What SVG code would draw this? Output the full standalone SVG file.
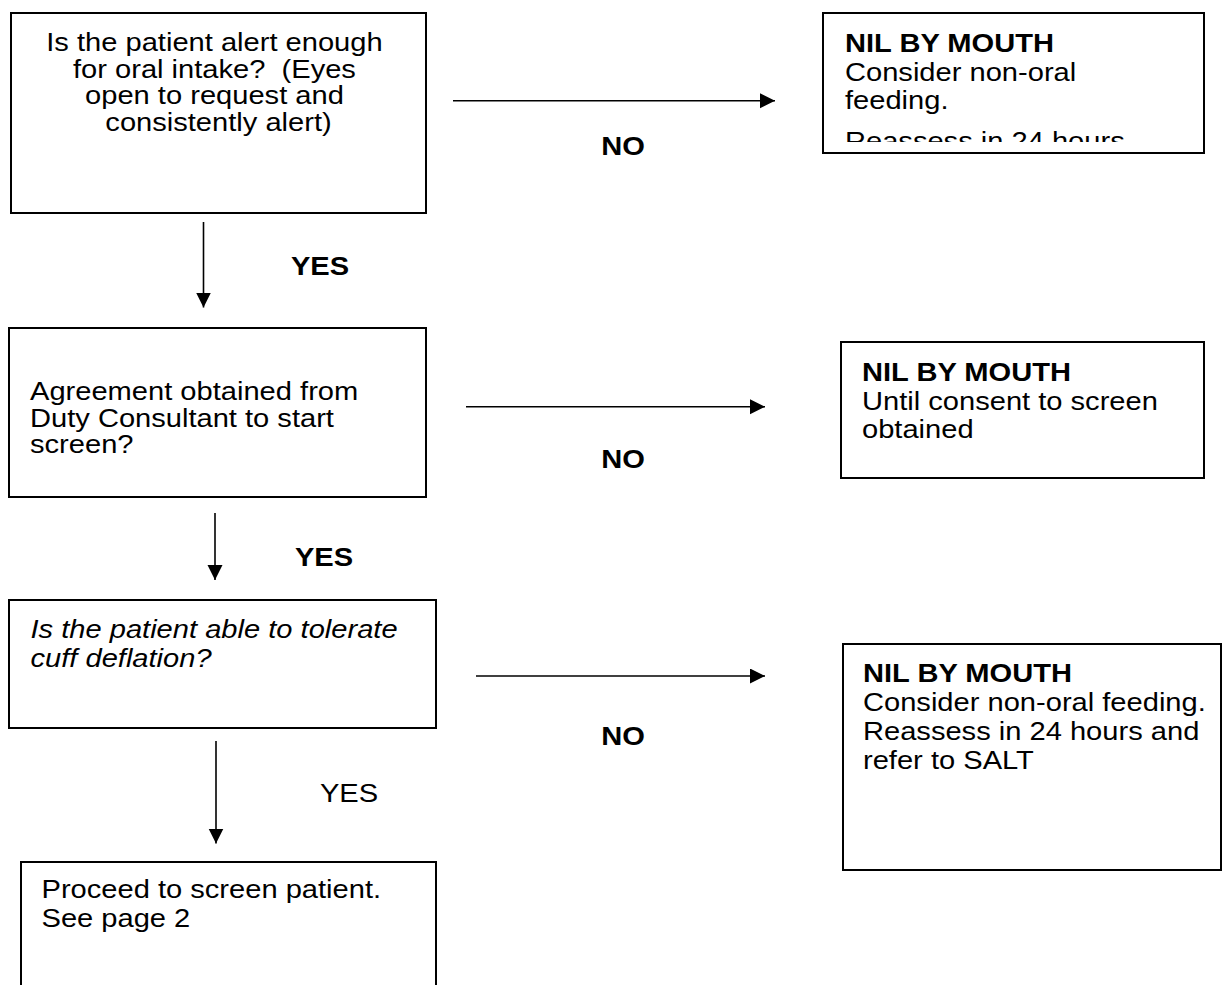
<svg xmlns="http://www.w3.org/2000/svg" width="1223" height="985" viewBox="0 0 1223 985">
<style>
  .box { fill: #fff; stroke: #000; stroke-width: 2; }
  .t { font-family: "Liberation Sans", Arial, sans-serif; font-size: 25.6px; fill: #000; }
  .b { font-weight: bold; }
  .i { font-style: italic; }
  .c { text-anchor: middle; }
  .conn { stroke: #000; stroke-width: 1.6; fill: none; marker-end: url(#arrow); }
</style>
<defs>
  <marker id="arrow" markerUnits="userSpaceOnUse" markerWidth="16" markerHeight="16" refX="15" refY="7.5" orient="auto">
    <path d="M0,0 L15,7.5 L0,15 Z" fill="#000"/>
  </marker>
  <clipPath id="clip2"><rect x="823" y="13" width="381" height="129"/></clipPath>
</defs>
<rect width="1223" height="985" fill="#fff"/>

<g id="n1">
  <rect class="box" x="11" y="13" width="415" height="200"/>
  <text class="t c" transform="translate(218.5,51) scale(1.137,1)">
    <tspan x="0" y="0">Is the patient alert enough</tspan>
    <tspan x="0" y="26.6">for oral intake?&#160; (Eyes</tspan>
    <tspan x="0" y="53.2">open to request and</tspan>
    <tspan x="0" y="79.8">consistently alert)</tspan>
  </text>
</g>

<g id="n2">
  <rect class="box" x="823" y="13" width="381" height="140"/>
  <g clip-path="url(#clip2)">
    <text class="t" transform="translate(845,52) scale(1.137,1)">
      <tspan x="0" y="0" class="b">NIL BY MOUTH</tspan>
      <tspan x="0" y="29">Consider non-oral</tspan>
      <tspan x="0" y="57">feeding.</tspan>
      <tspan x="0" y="98">Reassess in 24 hours</tspan>
    </text>
  </g>
</g>

<g id="n3">
  <rect class="box" x="9" y="328" width="417" height="169"/>
  <text class="t" transform="translate(30,400) scale(1.137,1)">
    <tspan x="0" y="0">Agreement obtained from</tspan>
    <tspan x="0" y="26.6">Duty Consultant to start</tspan>
    <tspan x="0" y="53.2">screen?</tspan>
  </text>
</g>

<g id="n4">
  <rect class="box" x="841" y="342" width="363" height="136"/>
  <text class="t" transform="translate(862,381) scale(1.137,1)">
    <tspan x="0" y="0" class="b">NIL BY MOUTH</tspan>
    <tspan x="0" y="28.6">Until consent to screen</tspan>
    <tspan x="0" y="57.2">obtained</tspan>
  </text>
</g>

<g id="n5">
  <rect class="box" x="9" y="600" width="427" height="128"/>
  <text class="t i" transform="translate(30.5,638) scale(1.137,1)">
    <tspan x="0" y="0">Is the patient able to tolerate</tspan>
    <tspan x="0" y="28.6">cuff deflation?</tspan>
  </text>
</g>

<g id="n6">
  <rect class="box" x="843" y="644" width="378" height="226"/>
  <text class="t" transform="translate(863,682) scale(1.137,1)">
    <tspan x="0" y="0" class="b">NIL BY MOUTH</tspan>
    <tspan x="0" y="29">Consider non-oral feeding.</tspan>
    <tspan x="0" y="58">Reassess in 24 hours and</tspan>
    <tspan x="0" y="87">refer to SALT</tspan>
  </text>
</g>

<g id="n7">
  <rect class="box" x="21" y="862" width="415" height="140"/>
  <text class="t" transform="translate(41.5,898) scale(1.137,1)">
    <tspan x="0" y="0">Proceed to screen patient.</tspan>
    <tspan x="0" y="28.6">See page 2</tspan>
  </text>
</g>

<g id="connectors">
  <line class="conn" x1="453" y1="100.7" x2="775" y2="100.7"/>
  <line class="conn" x1="466" y1="406.7" x2="765" y2="406.7"/>
  <line class="conn" x1="476" y1="676" x2="765" y2="676"/>
  <line class="conn" x1="203.5" y1="222" x2="203.5" y2="307.5"/>
  <line class="conn" x1="215" y1="513" x2="215" y2="580"/>
  <line class="conn" x1="216" y1="741" x2="216" y2="843.5"/>
</g>

<g id="labels">
  <text class="t b c" transform="translate(623,155) scale(1.137,1)">NO</text>
  <text class="t b c" transform="translate(623,468) scale(1.137,1)">NO</text>
  <text class="t b c" transform="translate(623,745) scale(1.137,1)">NO</text>
  <text class="t b c" transform="translate(320,275) scale(1.137,1)">YES</text>
  <text class="t b c" transform="translate(324,566) scale(1.137,1)">YES</text>
  <text class="t c" transform="translate(349,802) scale(1.137,1)">YES</text>
</g>
</svg>
